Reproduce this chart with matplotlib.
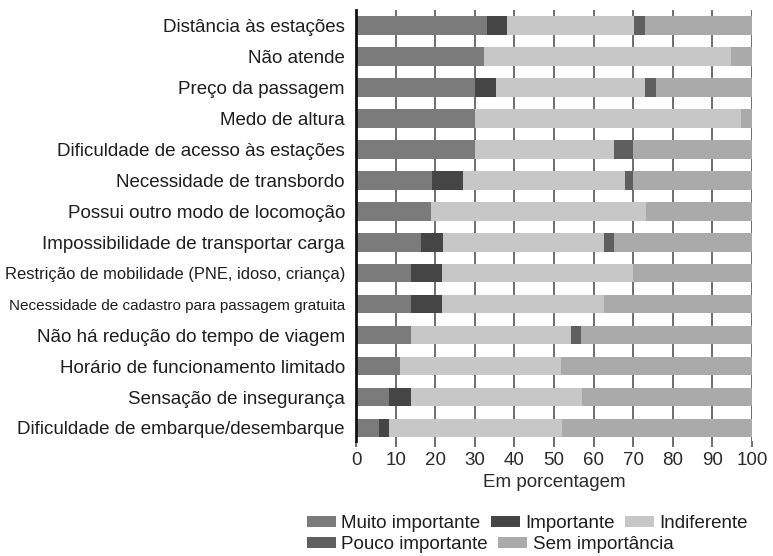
import matplotlib
matplotlib.use("Agg")
import matplotlib.pyplot as plt
from matplotlib.patches import Patch
import numpy as np

plt.rcParams['font.family'] = ['Liberation Sans', 'DejaVu Sans']

categories = [
    "Distância às estações",
    "Não atende",
    "Preço da passagem",
    "Medo de altura",
    "Dificuldade de acesso às estações",
    "Necessidade de transbordo",
    "Possui outro modo de locomoção",
    "Impossibilidade de transportar carga",
    "Restrição de mobilidade (PNE, idoso, criança)",
    "Necessidade de cadastro para passagem gratuita",
    "Não há redução do tempo de viagem",
    "Horário de funcionamento limitado",
    "Sensação de insegurança",
    "Dificuldade de embarque/desembarque",
]
small_labels = {8: 11.9, 9: 11.0}

muito_importante = [33, 32.3, 30.1, 30, 30, 19.2, 19, 16.3, 13.8, 13.8, 13.8, 11.1, 8.4, 5.7]
importante       = [5.2, 0, 5.3, 0, 0, 7.9, 0, 5.6, 7.9, 7.9, 0, 0, 5.4, 2.7]
indiferente      = [32, 62.3, 37.7, 67.3, 35.2, 40.9, 54.2, 40.7, 48.3, 40.9, 40.6, 40.6, 43.3, 43.6]
pouco_importante = [2.9, 0, 2.7, 0, 4.8, 2, 0, 2.6, 0, 0, 2.3, 0, 0, 0]
sem_importancia  = [26.9, 5.4, 24.2, 2.7, 30, 30, 26.8, 34.8, 30, 37.4, 43.5, 48.3, 42.9, 48]

series = [
    ("Muito importante", muito_importante, "#7b7b7b"),
    ("Importante", importante, "#454545"),
    ("Indiferente", indiferente, "#c7c7c7"),
    ("Pouco importante", pouco_importante, "#5f5f5f"),
    ("Sem importância", sem_importancia, "#aaaaaa"),
]
xticks = [0, 10, 20, 30, 40, 50, 60, 70, 80, 90, 100]

fig = plt.figure(figsize=(7.73, 5.56), dpi=100)
ax = fig.add_axes([356/773, 1-441/556, 396/773, 431/556])

y = np.arange(len(categories))
left = np.zeros(len(categories))
handles = {}
for name, vals, col in series:
    vals = np.array(vals, dtype=float)
    ax.barh(y, vals, left=left, height=0.6, color=col, edgecolor='none', zorder=3)
    handles[name] = Patch(facecolor=col, edgecolor='none')
    left += vals

ax.set_xlim(0, 100)
ax.set_ylim(13.42, -0.5)
ax.set_xticks(xticks)
ax.set_xticklabels([str(t) for t in xticks], fontsize=13.5, color='#2a2a2a')
ax.set_yticks(y)
ax.set_yticklabels(categories, fontsize=13.5, color='#1e1e1e')
for i, lab in enumerate(ax.get_yticklabels()):
    if i in small_labels:
        lab.set_fontsize(small_labels[i])
ax.tick_params(axis='y', length=0, pad=8)
ax.tick_params(axis='x', length=4, width=1.2, color='#555555', pad=4)
ax.xaxis.grid(True, color='#555555', linewidth=1.2, zorder=0)
ax.set_axisbelow(True)
for s in ['top', 'right', 'bottom']:
    ax.spines[s].set_visible(False)
ax.spines['left'].set_linewidth(2)
ax.spines['left'].set_color('#111111')
ax.spines['left'].set_zorder(4)
ax.set_xlabel("Em porcentagem", fontsize=13.5, color='#2a2a2a', labelpad=3.5)

leg_kw = dict(loc='upper left', bbox_transform=fig.transFigure, frameon=False,
              fontsize=13.5, handlelength=1.55, handleheight=0.5, handletextpad=0.28,
              columnspacing=0.55, borderpad=0, borderaxespad=0, labelcolor='#1e1e1e')
row1 = ["Muito importante", "Importante", "Indiferente"]
row2 = ["Pouco importante", "Sem importância"]
fig.legend([handles[n] for n in row1], row1, ncol=3,
           bbox_to_anchor=(307/773, 1-515/556), **leg_kw)
fig.legend([handles[n] for n in row2], row2, ncol=2,
           bbox_to_anchor=(307/773, 1-536/556), **leg_kw)

fig.savefig("out.png", dpi=100)
